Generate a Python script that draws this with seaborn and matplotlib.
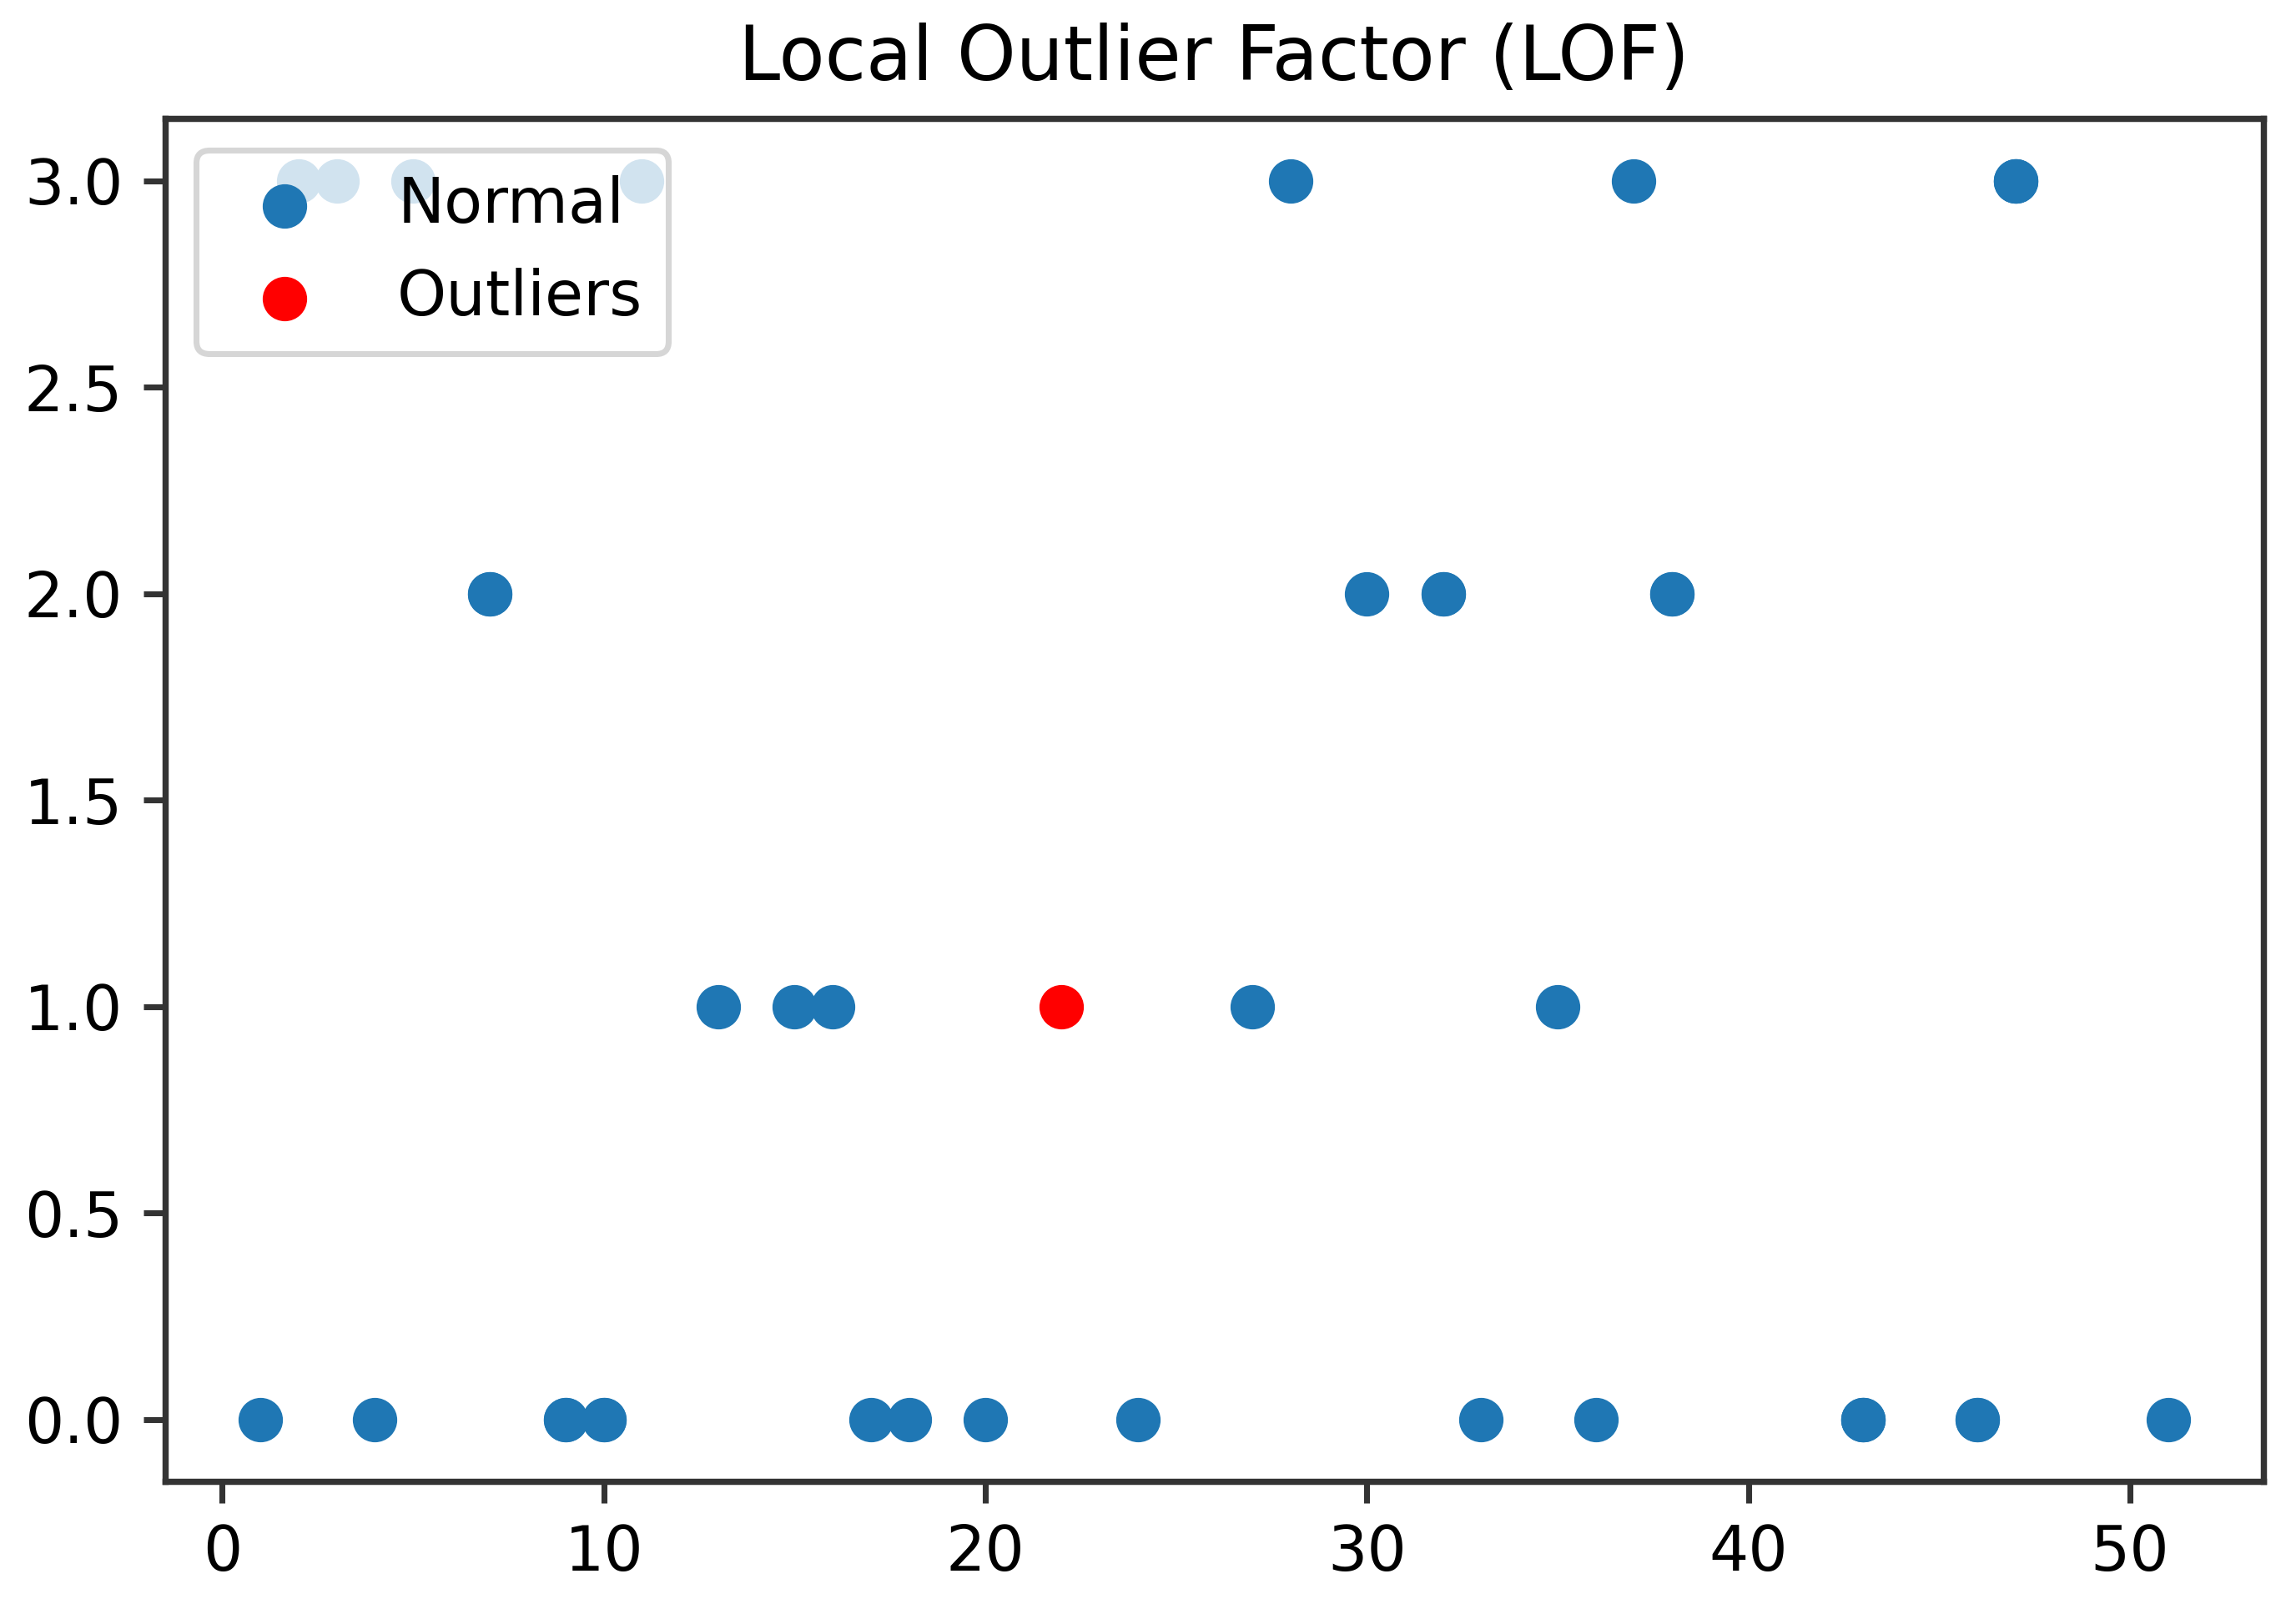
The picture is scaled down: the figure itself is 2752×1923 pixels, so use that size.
"""
Local Outlier Factor scatter: normal points vs flagged outliers.
"""

import matplotlib
matplotlib.use('Agg')
import matplotlib.pyplot as plt
import seaborn as sns

# Normal points (repeated values are overlapping observations)
normal_x = [1, 4, 9, 9, 10, 10, 17, 18, 20, 24, 33, 36, 43, 43, 43, 46, 46, 51,
            13, 15, 16, 27, 35,
            7, 7, 30, 32, 32, 38, 38,
            2, 3, 5, 11, 28, 37, 47, 47, 47]
normal_y = [0, 0, 0, 0, 0, 0, 0, 0, 0, 0, 0, 0, 0, 0, 0, 0, 0, 0,
            1, 1, 1, 1, 1,
            2, 2, 2, 2, 2, 2, 2,
            3, 3, 3, 3, 3, 3, 3, 3, 3]

# Points flagged by LOF
outlier_x = [22]
outlier_y = [1]

title = 'Local Outlier Factor (LOF)'

DPI = 511
plt.rcParams['font.family'] = ['DejaVu Sans']

fig = plt.figure(figsize=(2752 / DPI, 1923 / DPI), dpi=DPI)
ax = fig.add_axes([0.0719, 0.0764, 0.9139, 0.8496])

sns.scatterplot(x=normal_x, y=normal_y, ax=ax, color='#1f77b4', s=36,
                edgecolor='#1f77b4', linewidth=1.5, label='Normal', legend=False)
sns.scatterplot(x=outlier_x, y=outlier_y, ax=ax, color='red', s=36,
                edgecolor='red', linewidth=1.5, label='Outliers', legend=False)

ax.set_title(title, fontsize=12.7, pad=6.5)
ax.set_yticks([0.0, 0.5, 1.0, 1.5, 2.0, 2.5, 3.0])
ax.set_xticks([0, 10, 20, 30, 40, 50])
ax.set_xlabel('')
ax.set_ylabel('')

for spine in ax.spines.values():
    spine.set_color('#333333')
    spine.set_linewidth(1.05)
ax.tick_params(colors='#333333', labelcolor='black', width=1.0, length=3.6, labelsize=10.5)

ax.legend(loc='upper left', fontsize=10.6)

fig.savefig('out.png', dpi=DPI)
